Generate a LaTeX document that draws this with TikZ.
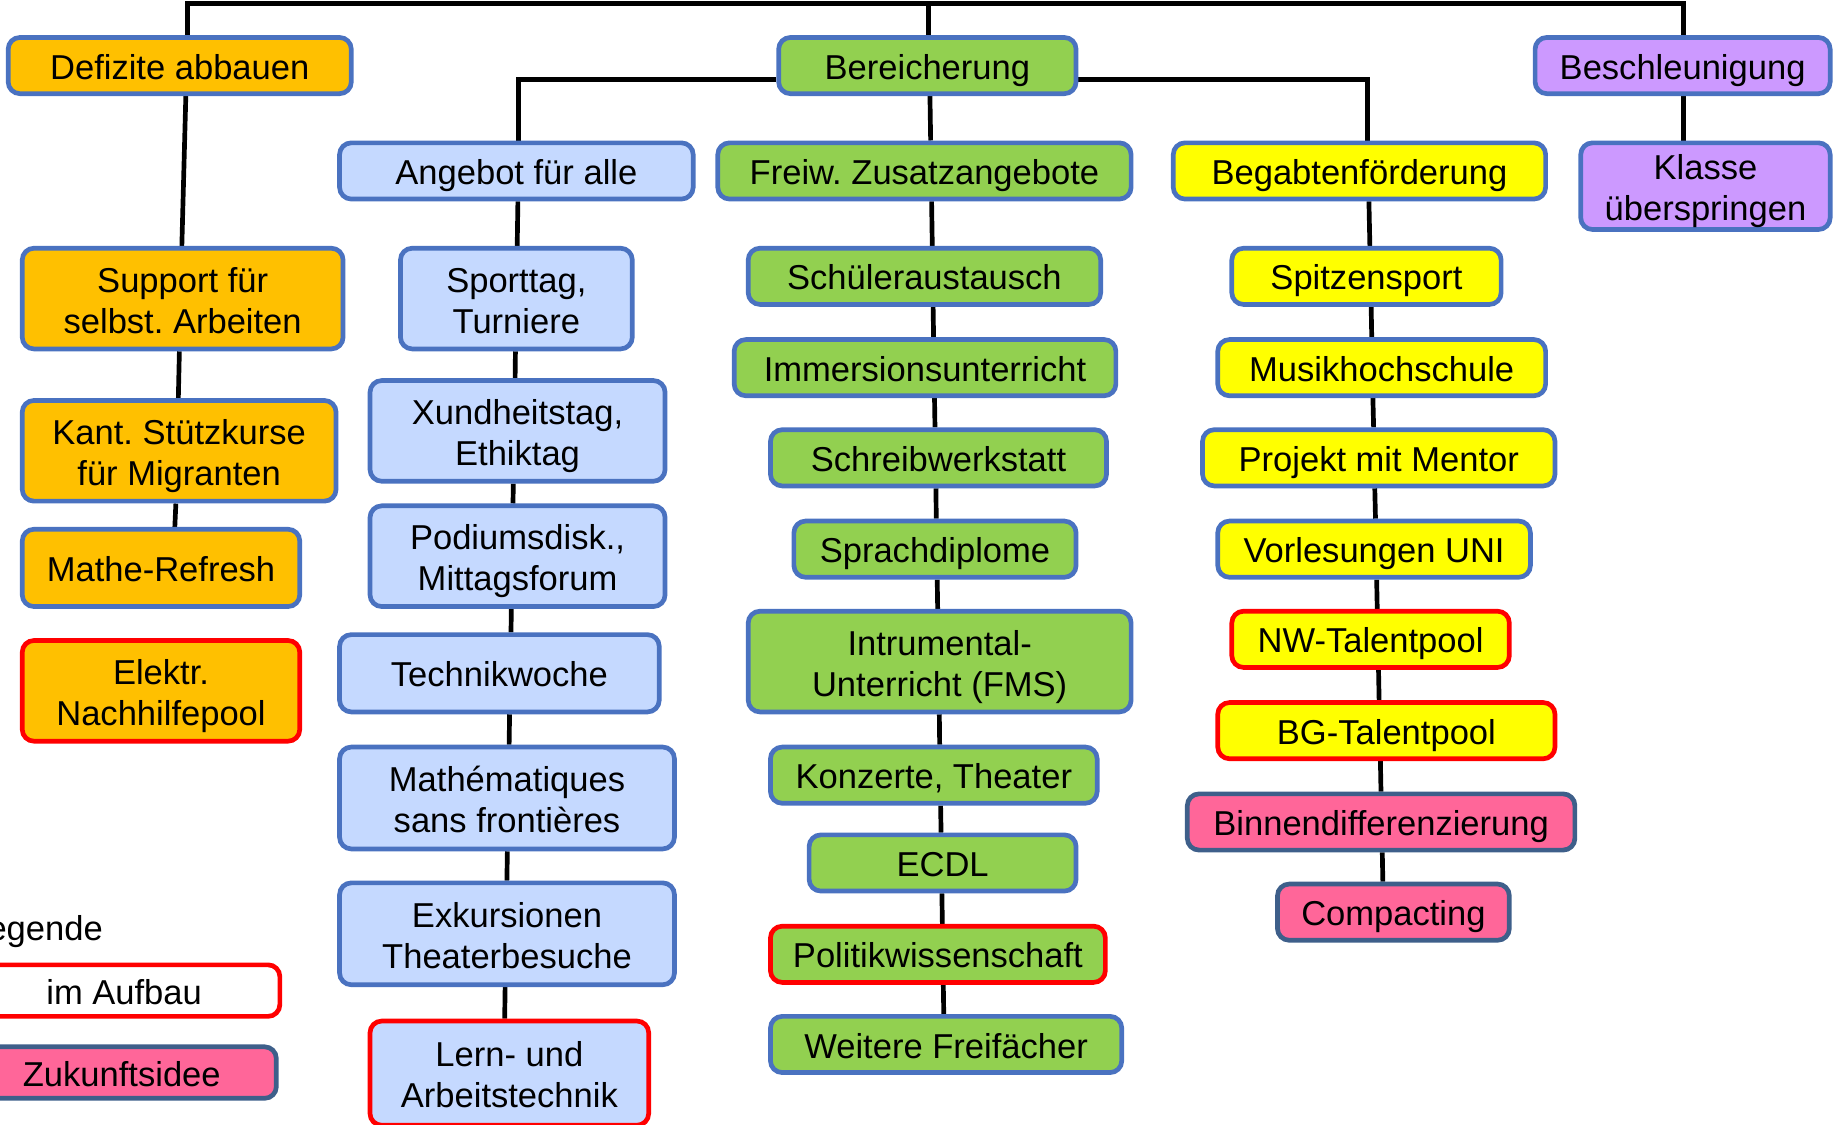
\documentclass[tikz,border=0pt]{standalone}
\usepackage{fontspec}
\setmainfont{Liberation Sans}
\frenchspacing
\usetikzlibrary{backgrounds}
\definecolor{orangeF}{HTML}{FFC000}
\definecolor{blueB}{HTML}{4A72C0}
\definecolor{lblueF}{HTML}{C5D9FF}
\definecolor{greenF}{HTML}{92D050}
\definecolor{yellowF}{HTML}{FFFF00}
\definecolor{purpleF}{HTML}{CC99FF}
\definecolor{pinkF}{HTML}{FF6699}
\definecolor{darkB}{HTML}{3E5F8A}
\definecolor{redB}{HTML}{FF0000}
\newcommand\twol[2]{\raisebox{-5pt}[\height][\depth]{\begin{tabular}{@{}c@{}}#1\\#2\end{tabular}}}
\tikzset{
  basebox/.style={draw=blueB, fill=#1, line width=4pt, rounded corners=10pt, inner sep=0pt,
    font=\fontsize{29.5}{35}\selectfont\frenchspacing, text=black},
  box/.style={basebox=#1, text height=23.2pt, text depth=0pt},
  boxtwo/.style={basebox=#1},
  newbox/.style={box=#1, draw=redB},
  newboxtwo/.style={boxtwo=#1, draw=redB},
  ideabox/.style={box=pinkF, draw=darkB},
  conn/.style={draw=black, line width=4pt},
  sz/.style n args={2}{minimum width=#1, minimum height=#2}
}
\begin{document}
\begin{tikzpicture}[x=1pt, y=-1pt]
\path[use as bounding box, clip] (0,0) rectangle (1568,960);
% Column 1
\node[box=orangeF, sz={293}{48}] (def) at (153.5,56) {Defizite abbauen};
\node[boxtwo=orangeF, sz={274}{86}] (sup) at (156,255) {\twol{Support für}{selbst. Arbeiten}};
\node[boxtwo=orangeF, sz={268}{86}] (kant) at (153,385) {\twol{Kant. Stützkurse}{für Migranten}};
\node[box=orangeF, sz={237}{66}] (mat1) at (137.5,485) {Mathe-Refresh};
\node[newboxtwo=orangeF, sz={237}{86}] (elek) at (137.5,590) {\twol{Elektr.}{Nachhilfepool}};
% Column 2
\node[box=lblueF, sz={302}{48}] (ang) at (441,146) {Angebot für alle};
\node[boxtwo=lblueF, sz={198}{86}] (spo) at (441,255) {\twol{Sporttag,}{Turniere}};
\node[boxtwo=lblueF, sz={252}{86}] (xun) at (442,368) {\twol{Xundheitstag,}{Ethiktag}};
\node[boxtwo=lblueF, sz={252}{86}] (pod) at (442,475) {\twol{Podiumsdisk.,}{Mittagsforum}};
\node[box=lblueF, sz={273}{66}] (tec) at (426.5,575) {Technikwoche};
\node[boxtwo=lblueF, sz={286}{87}] (mat) at (433,681.5) {\twol{Mathématiques}{sans frontières}};
\node[boxtwo=lblueF, sz={286}{87}] (exk) at (433,797.5) {\twol{Exkursionen}{Theaterbesuche}};
\node[newboxtwo=lblueF, sz={238}{89}] (lern) at (435,916.5) {\twol{Lern- und}{Arbeitstechnik}};
% Column 3
\node[box=greenF, sz={254}{48}] (ber) at (792,56) {Bereicherung};
\node[box=greenF, sz={353}{48}] (fre) at (789.5,146) {Freiw. Zusatzangebote};
\node[box=greenF, sz={301}{48}] (sch) at (789.5,236) {Schüleraustausch};
\node[box=greenF, sz={326}{48}] (imm) at (790,314) {Immersionsunterricht};
\node[box=greenF, sz={287}{48}] (schr) at (801.5,391) {Schreibwerkstatt};
\node[box=greenF, sz={241}{48}] (spr) at (798.5,469) {Sprachdiplome};
\node[boxtwo=greenF, sz={327}{86}] (ins) at (802.5,565) {\twol{Intrumental-}{Unterricht (FMS)}};
\node[box=greenF, sz={279}{48}] (kon) at (797.5,662) {Konzerte, Theater};
\node[box=greenF, sz={228}{48}] (ecd) at (805,737) {ECDL};
\node[newbox=greenF, sz={286}{48}] (pol) at (801,815) {Politikwissenschaft};
\node[box=greenF, sz={300}{48}] (wei) at (808,892) {Weitere Freifächer};
% Column 4
\node[box=yellowF, sz={318}{48}] (beg) at (1161,146) {Begabtenförderung};
\node[box=yellowF, sz={230}{48}] (spi) at (1167,236) {Spitzensport};
\node[box=yellowF, sz={280}{48}] (mus) at (1180,314) {Musikhochschule};
\node[box=yellowF, sz={301}{48}] (pro) at (1177.5,391) {Projekt mit Mentor};
\node[box=yellowF, sz={267}{48}] (vor) at (1173.5,469) {Vorlesungen UNI};
\node[newbox=yellowF, sz={237}{48}] (nw) at (1170.5,546) {NW-Talentpool};
\node[newbox=yellowF, sz={288}{48}] (bg) at (1184,624) {BG-Talentpool};
\node[ideabox, sz={331}{48}] (bin) at (1179.5,702) {Binnendifferenzierung};
\node[ideabox, sz={198}{48}] (com) at (1190,779) {Compacting};
% Column 5
\node[box=purpleF, sz={252}{48}] (bes) at (1437,56) {Beschleunigung};
\node[boxtwo=purpleF, sz={213}{74}] (kla) at (1456.5,159) {\twol{Klasse}{überspringen}};
% Legend
\node[anchor=east, inner sep=0pt, font=\fontsize{29.5}{35}\selectfont] (leg) at (88,796) {Legende};
\node[newbox=white, sz={266}{44}] (auf) at (106,846) {im Aufbau};
\node[ideabox, sz={264}{44}] (zuk) at (104,916) {Zukunftsidee};
% connectors
\begin{scope}[on background layer]
\coordinate (tl) at (160,3);
\coordinate (tm) at (793,3);
\coordinate (tr) at (1438,3);
\draw[conn, line join=miter] (def.north -| tl) -- (tl) -- (tr) -- (bes.north -| tr);
\draw[conn] (tm) -- (ber.north -| tm);
% column 1
\draw[conn] ([xshift=5.2]def.south) -- ([xshift=-0.7]sup.north);
\draw[conn] ([xshift=-2.8]sup.south) -- ([xshift=-0.7]kant.north);
\draw[conn] ([xshift=-2.8]kant.south) -- ([xshift=11.8]mat1.north);
% column 2
\draw[conn, line join=miter] ([yshift=-12pt]ber.west) -| ([xshift=2]ang.north);
\draw[conn] ([xshift=1.3]ang.south) -- ([xshift=0.7]spo.north);
\draw[conn] ([xshift=-0.8]spo.south) -- ([xshift=-2.1]xun.north);
\draw[conn] ([xshift=-3.6]xun.south) -- ([xshift=-3.9]pod.north);
\draw[conn] ([xshift=-5.3]pod.south) -- ([xshift=9.9]tec.north);
\draw[conn] ([xshift=8.7]tec.south) -- ([xshift=1.8]mat.north);
\draw[conn] ([xshift=0.3]mat.south) -- ([xshift=-0.1]exk.north);
\draw[conn] ([xshift=-1.6]exk.south) -- ([xshift=-4]lern.north);
% column 3
\draw[conn] ([xshift=2.2]ber.south) -- ([xshift=5.3]fre.north);
\draw[conn] ([xshift=6.1]fre.south) -- ([xshift=6.7]sch.north);
\draw[conn] ([xshift=7.4]sch.south) -- ([xshift=7.3]imm.north);
\draw[conn] ([xshift=8.1]imm.south) -- ([xshift=-3]schr.north);
\draw[conn] ([xshift=-2.2]schr.south) -- ([xshift=1.1]spr.north);
\draw[conn] ([xshift=1.9]spr.south) -- ([xshift=-1.7]ins.north);
\draw[conn] ([xshift=-0.3]ins.south) -- ([xshift=5]kon.north);
\draw[conn] ([xshift=5.8]kon.south) -- ([xshift=-1.3]ecd.north);
\draw[conn] ([xshift=-0.6]ecd.south) -- ([xshift=3.8]pol.north);
\draw[conn] ([xshift=4.6]pol.south) -- ([xshift=-2]wei.north);
% column 4
\draw[conn, line join=miter] ([yshift=-12pt]ber.east) -| ([xshift=7.1]beg.north);
\draw[conn] ([xshift=8.1]beg.south) -- ([xshift=2.9]spi.north);
\draw[conn] ([xshift=4]spi.south) -- ([xshift=-8.5]mus.north);
\draw[conn] ([xshift=-7.5]mus.south) -- ([xshift=-4.4]pro.north);
\draw[conn] ([xshift=-3.4]pro.south) -- ([xshift=1.2]vor.north);
\draw[conn] ([xshift=2.2]vor.south) -- ([xshift=5.7]nw.north);
\draw[conn] ([xshift=6.8]nw.south) -- ([xshift=-6.2]bg.north);
\draw[conn] ([xshift=-5.1]bg.south) -- ([xshift=-0.1]bin.north);
\draw[conn] ([xshift=1]bin.south) -- ([xshift=-9]com.north);
% column 5
\draw[conn] ([xshift=1]bes.south) -- ([xshift=-18.5]kla.north);
\end{scope}
\end{tikzpicture}
\end{document}
